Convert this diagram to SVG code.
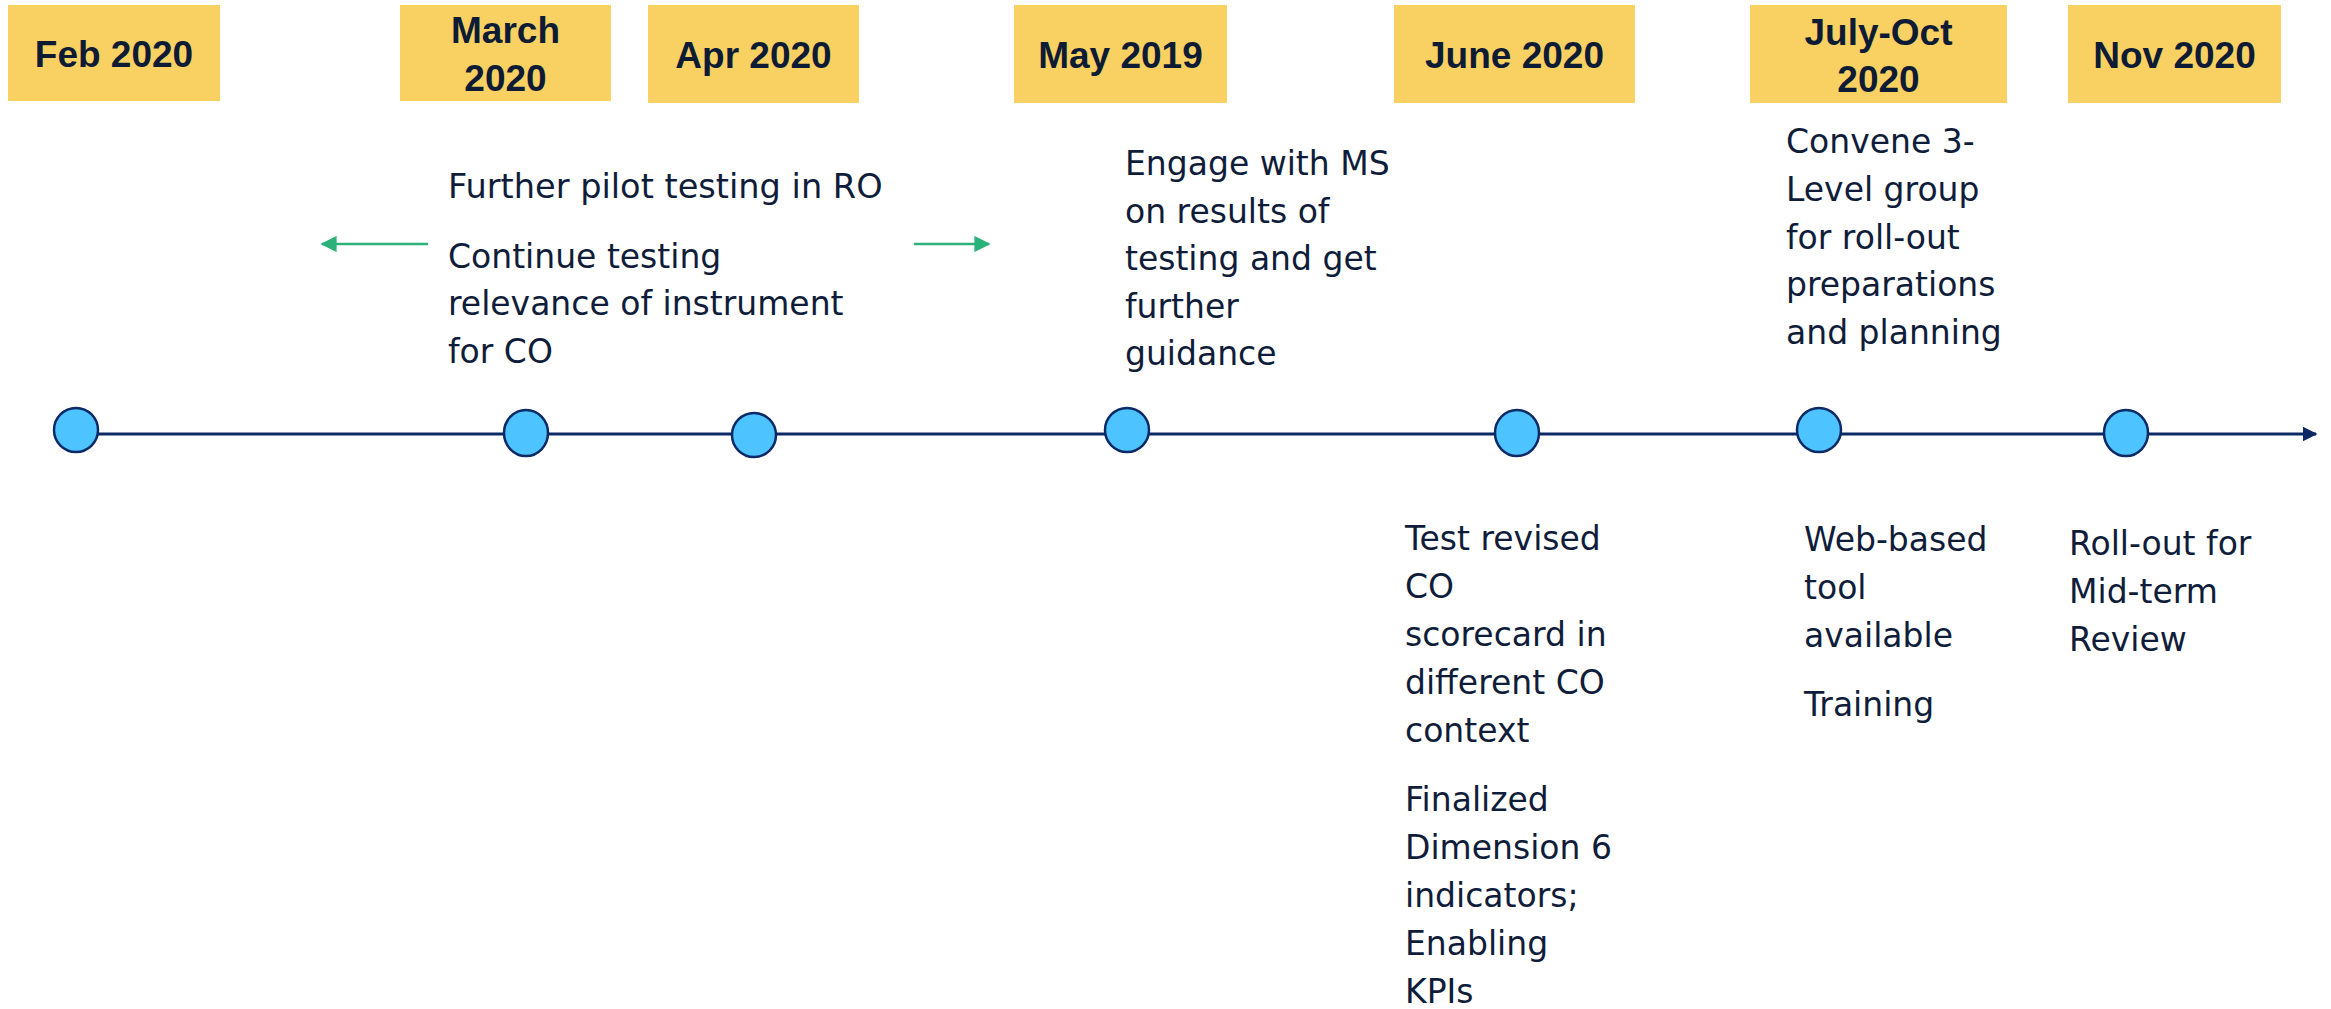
<svg xmlns="http://www.w3.org/2000/svg" width="2331" height="1009" viewBox="0 0 2331 1009">
<style>
.box{fill:#f9d162}
.hd{font-family:"Liberation Sans",Arial,sans-serif;font-weight:bold;font-size:37px;fill:#0e1b35;text-anchor:middle}
.tx{font-family:"DejaVu Sans",Verdana,sans-serif;font-size:33px;fill:#0f1d3a}
.dot{fill:#4dc3ff;stroke:#0b2a66;stroke-width:2.5}
.tl{stroke:#0b2a66;stroke-width:3;fill:none}
.gr{stroke:#2bb27a;stroke-width:2.5;fill:none}
</style>
<defs>
<marker id="navyHead" viewBox="0 0 10 10" refX="9" refY="5" markerWidth="5" markerHeight="5" orient="auto" markerUnits="strokeWidth">
<path d="M0,0 L10,5 L0,10 z" fill="#0b2a66"/>
</marker>
<marker id="greenHead" viewBox="0 0 10 10" refX="9" refY="5" markerWidth="6.5" markerHeight="6.5" orient="auto" markerUnits="strokeWidth">
<path d="M0,0 L10,5 L0,10 z" fill="#2bb27a"/>
</marker>
</defs>
<rect width="2331" height="1009" fill="#ffffff"/>
<g id="connectors">
<line class="tl" x1="98" y1="434" x2="2316" y2="434" marker-end="url(#navyHead)"/>
<line class="gr" x1="428" y1="244" x2="322" y2="244" marker-end="url(#greenHead)"/>
<line class="gr" x1="914" y1="244" x2="989" y2="244" marker-end="url(#greenHead)"/>
</g>
<g id="node-feb">
<rect class="box" x="8" y="5" width="212" height="96"/>
<text class="hd" x="114" y="67">Feb 2020</text>
<ellipse class="dot" cx="76" cy="430" rx="22" ry="22"/>
</g>
<g id="node-mar">
<rect class="box" x="400" y="5" width="211" height="96"/>
<text class="hd" x="505.5" y="43">March</text>
<text class="hd" x="505.5" y="91">2020</text>
<ellipse class="dot" cx="526" cy="433" rx="22" ry="23"/>
<text class="tx" x="448" y="198" style="font-size:33.6px">Further pilot testing in RO</text>
<text class="tx" x="448" y="268">Continue testing</text>
<text class="tx" x="448" y="315">relevance of instrument</text>
<text class="tx" x="448" y="363">for CO</text>
</g>
<g id="node-apr">
<rect class="box" x="648" y="5" width="211" height="98"/>
<text class="hd" x="753.5" y="68">Apr 2020</text>
<ellipse class="dot" cx="754" cy="435" rx="22" ry="22"/>
</g>
<g id="node-may">
<rect class="box" x="1014" y="5" width="213" height="98"/>
<text class="hd" x="1120.5" y="68">May 2019</text>
<ellipse class="dot" cx="1127" cy="430" rx="22" ry="22"/>
<text class="tx" x="1125" y="175">Engage with MS</text>
<text class="tx" x="1125" y="222.5">on results of</text>
<text class="tx" x="1125" y="270">testing and get</text>
<text class="tx" x="1125" y="317.5">further</text>
<text class="tx" x="1125" y="365">guidance</text>
</g>
<g id="node-jun">
<rect class="box" x="1394" y="5" width="241" height="98"/>
<text class="hd" x="1514.5" y="68">June 2020</text>
<ellipse class="dot" cx="1517" cy="433" rx="22" ry="23"/>
<text class="tx" x="1405" y="550">Test revised</text>
<text class="tx" x="1405" y="598">CO</text>
<text class="tx" x="1405" y="646">scorecard in</text>
<text class="tx" x="1405" y="694">different CO</text>
<text class="tx" x="1405" y="742">context</text>
<text class="tx" x="1405" y="811">Finalized</text>
<text class="tx" x="1405" y="859">Dimension 6</text>
<text class="tx" x="1405" y="907">indicators;</text>
<text class="tx" x="1405" y="955">Enabling</text>
<text class="tx" x="1405" y="1003">KPIs</text>
</g>
<g id="node-jul">
<rect class="box" x="1750" y="5" width="257" height="98"/>
<text class="hd" x="1878.5" y="45">July-Oct</text>
<text class="hd" x="1878.5" y="92">2020</text>
<ellipse class="dot" cx="1819" cy="430" rx="22" ry="22"/>
<text class="tx" x="1786" y="153">Convene 3-</text>
<text class="tx" x="1786" y="201">Level group</text>
<text class="tx" x="1786" y="248.5">for roll-out</text>
<text class="tx" x="1786" y="296">preparations</text>
<text class="tx" x="1786" y="343.5">and planning</text>
<text class="tx" x="1804" y="551">Web-based</text>
<text class="tx" x="1804" y="599">tool</text>
<text class="tx" x="1804" y="647">available</text>
<text class="tx" x="1804" y="716">Training</text>
</g>
<g id="node-nov">
<rect class="box" x="2068" y="5" width="213" height="98"/>
<text class="hd" x="2174.5" y="68">Nov 2020</text>
<ellipse class="dot" cx="2126" cy="433" rx="22" ry="23"/>
<text class="tx" x="2069" y="555">Roll-out for</text>
<text class="tx" x="2069" y="603">Mid-term</text>
<text class="tx" x="2069" y="651">Review</text>
</g>
</svg>
